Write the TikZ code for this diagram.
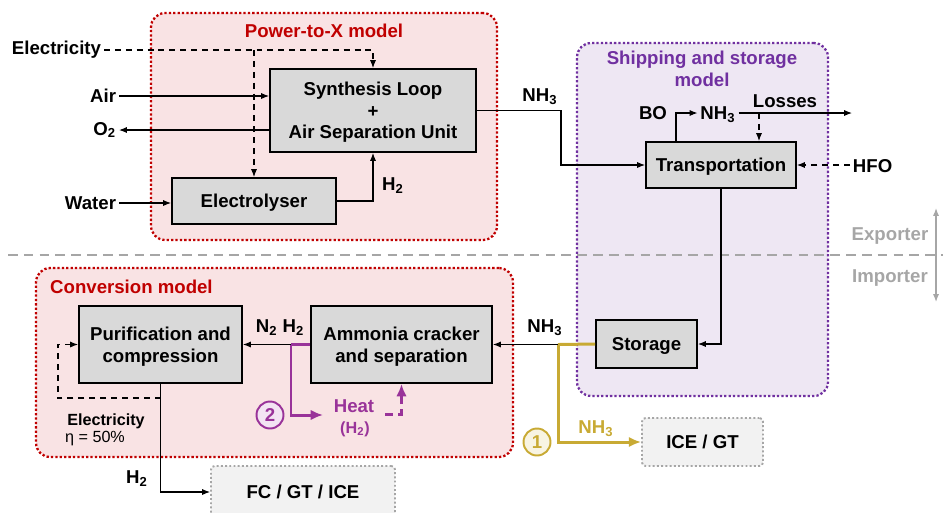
\documentclass[tikz,border=0pt]{standalone}
\usepackage{fontspec}
\setmainfont{Liberation Sans}
\usetikzlibrary{arrows.meta,positioning,calc}
\definecolor{ptxred}{RGB}{192,0,0}
\definecolor{ptxfill}{RGB}{249,227,228}
\definecolor{shipviolet}{RGB}{112,48,160}
\definecolor{shipfill}{RGB}{238,231,243}
\definecolor{boxgray}{RGB}{217,217,217}
\definecolor{extgray}{RGB}{242,242,242}
\definecolor{sidegray}{RGB}{166,166,166}
\definecolor{ammolive}{RGB}{200,170,52}
\definecolor{ammfill}{RGB}{248,244,226}
\definecolor{heatpurple}{RGB}{153,51,153}
\definecolor{heatfill}{RGB}{243,228,243}

\begin{document}
\begin{tikzpicture}[
    x=0.02cm, y=-0.02cm,
    every node/.style={font=\fontsize{10.6}{12.3}\selectfont\bfseries},
    unit/.style={rectangle, draw, line width=1.1pt, fill=boxgray, align=center, inner sep=2pt, text depth=0pt},
    ext/.style={rectangle, draw=sidegray, line width=1.1pt, dash pattern=on 1.1pt off 1.3pt,
                rounded corners=2pt, fill=extgray, align=center, text depth=0pt},
    region/.style={rectangle, draw=#1, line width=1.3pt, dash pattern=on 1.3pt off 1.2pt,
                   rounded corners=8pt, inner sep=0pt},
    title/.style={text=#1, align=center},
    lbl/.style={inner sep=1.5pt},
    small/.style={font=\fontsize{9.2}{11}\selectfont\bfseries},
    arr/.style={-{Latex[length=4.5pt,width=3.5pt]}, line width=0.65pt},
    dasharr/.style={arr, dash pattern=on 3.4pt off 2.8pt},
    oline/.style={line width=1.7pt, draw=ammolive},
    oarr/.style={oline, -{Latex[length=7pt,width=6pt]}},
    pline/.style={line width=1.7pt, draw=heatpurple},
    parr/.style={pline, -{Latex[length=7pt,width=6pt]}},
    pdash/.style={parr, dash pattern=on 4.5pt off 3pt},
    numc/.style={circle, draw=#1, text=#1, line width=1.1pt, minimum size=0.54cm, inner sep=0pt},
    sidearr/.style={-{Latex[length=4.5pt,width=3.5pt]}, line width=0.7pt, draw=sidegray},
]
\useasboundingbox (0,0) rectangle (943,512);

% --- model regions (background) -------------------------------------
\node[region=ptxred, fill=ptxfill, minimum width=6.92cm, minimum height=4.54cm] (ptxreg) at (324,126.5) {};
\node[region=shipviolet, fill=shipfill, minimum width=5.02cm, minimum height=7.06cm] (shipreg) at (702.5,219.5) {};
\node[region=ptxred, fill=ptxfill, minimum width=9.54cm, minimum height=3.78cm] (convreg) at (274.5,362.5) {};
\node[title=ptxred] (ptxtitle) at (324,31) {Power-to-X model};
\node[title=shipviolet] (shiptitle) at (702,69) {Shipping and storage\\model};
\node[title=ptxred, anchor=west] (convtitle) at (44,287) {Conversion model};

% --- exporter / importer split ---------------------------------------
\coordinate (sepl) at (8,255);
\coordinate (sepr) at (943,255);
\draw[sidegray, line width=0.9pt, dash pattern=on 5.5pt off 3.5pt] (sepl) -- (sepr);
\coordinate (sidemid) at (936,255);
\coordinate (sidetop) at (936,208);
\coordinate (sidebot) at (936,302);
\draw[sidearr] (sidemid) -- (sidetop);
\draw[sidearr] (sidemid) -- (sidebot);
\node[text=sidegray] (exporter) at (890,236) {Exporter};
\node[text=sidegray] (importer) at (890,278) {Importer};

% --- Power-to-X units --------------------------------------------------
\node[unit, minimum width=4.12cm, minimum height=1.66cm] (synth) at (373,110.5)
     {Synthesis Loop\\+\\Air Separation Unit};
\node[unit, minimum width=3.28cm, minimum height=0.92cm] (elyser) at (254,201) {Electrolyser};

\node[lbl, anchor=west] (elec) at (9,50) {Electricity};
\node[lbl, anchor=east] (air) at (119,96) {Air};
\node[lbl, anchor=east] (otwo) at (119,130) {O\textsubscript{2}};
\node[lbl, anchor=east] (water) at (119,203) {Water};
\node[lbl] (htwoa) at (393,186) {H\textsubscript{2}};
\node[lbl] (nhexp) at (540,97) {NH\textsubscript{3}};

\draw[dasharr] (elec.east) -| (synth.north);
\draw[dasharr] (elyser.north |- elec.east) -- (elyser.north);
\draw[arr] (air.east) -- (air.east -| synth.west);
\draw[arr] (otwo.east -| synth.west) -- (otwo.east);
\draw[arr] (water.east) -- (water.east -| elyser.west);
\draw[arr] (elyser.east) -| (synth.south);

% --- shipping and storage ---------------------------------------------
\node[unit, minimum width=3.0cm, minimum height=0.92cm] (trans) at (721,165) {Transportation};
\node[unit, minimum width=2.02cm, minimum height=0.96cm] (store) at (646.5,344) {Storage};

\coordinate (nhbend) at (561,0);
\draw[arr] (synth.east) -| (nhbend |- trans.west) -- (trans.west);

\node[lbl] (bo) at (653,113) {BO};
\node[lbl] (nhboil) at (718,115) {NH\textsubscript{3}};
\node[lbl] (losses) at (785,101) {Losses};
\node[lbl, anchor=west] (hfo) at (850,166) {HFO};
\coordinate (borise) at (676,0);
\coordinate (lossend) at (852,113);
\coordinate (lossdrop) at (759,113);
\draw[arr] (trans.north -| borise) |- (nhboil.west |- lossend);
\draw[arr] (nhboil.east |- lossend) -- (lossend);
\draw[dasharr] (lossdrop) -- (lossdrop |- trans.north);
\draw[dasharr] (hfo.west |- trans.east) -- (trans.east);
\draw[arr] (trans.south) |- (store.east);

% --- conversion model ---------------------------------------------------
\node[unit, minimum width=3.26cm, minimum height=1.54cm] (purif) at (160.5,344.5) {Purification and\\compression};
\node[unit, minimum width=3.62cm, minimum height=1.54cm] (crack) at (401.5,344.5) {Ammonia cracker\\and separation};

\node[lbl] (nhimp) at (545,328) {NH\textsubscript{3}};
\node[lbl] (nhtwo) at (280,328) {N\textsubscript{2} H\textsubscript{2}};

\coordinate (split) at (558,344.5);
\draw[oline] (store.west) -- (split);
\draw[arr] (split) -- (crack.east);
\draw[arr] (crack.west) -- (purif.east);

% heat branch (2)
\coordinate (hsplit) at (291,344.5);
\coordinate (heatin) at (323,415);
\coordinate (heatout) at (385,414);
\draw[pline] (crack.west) -- (hsplit);
\draw[parr] (hsplit) |- (heatin);
\draw[pdash] (heatout) -| (crack.south);
\node[text=heatpurple] (heat) at (354,406) {Heat};
\node[text=heatpurple, small] (heath) at (355,429) {(H\textsubscript{2})};
\node[numc=heatpurple, fill=heatfill] (numtwo) at (270,415) {2};

% electricity loop of the compressor
\coordinate (eloop) at (58,398);
\draw[dasharr] (purif.south |- eloop) -- (eloop) |- (purif.west);
\node[small] (elecc) at (106,421) {Electricity};
\node[small, font=\fontsize{9.2}{11}\selectfont] (eta) at (95,439) {η = 50\%};

% --- end uses ------------------------------------------------------------
\node[ext, minimum width=2.42cm, minimum height=0.96cm] (iceg) at (702.5,442) {ICE / GT};
\node[ext, minimum width=3.68cm, minimum height=1.04cm] (fc) at (303,492) {FC / GT / ICE};

\draw[oarr] (split) |- (iceg.west);
\node[text=ammolive] (nholive) at (596,429) {NH\textsubscript{3}};
\node[numc=ammolive, fill=ammfill] (numone) at (537,442) {1};

\draw[arr] (purif.south) |- (fc.west);
\node[lbl] (htwob) at (137,479) {H\textsubscript{2}};
\end{tikzpicture}
\end{document}
